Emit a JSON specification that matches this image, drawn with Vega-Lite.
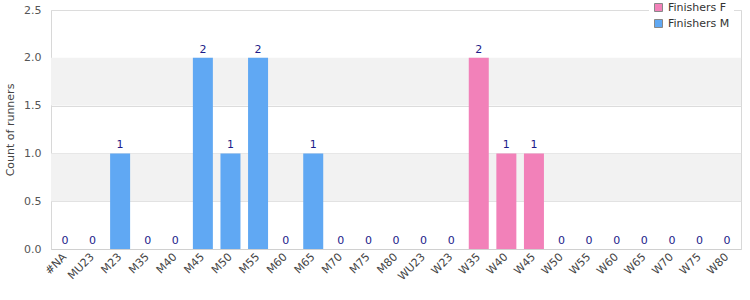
{
  "$schema": "https://vega.github.io/schema/vega-lite/v6.json",
  "autosize": "none",
  "width": 690,
  "height": 239,
  "padding": {"left": 51, "top": 10, "right": 9, "bottom": 51},
  "background": "white",
  "config": {
    "font": "DejaVu Sans",
    "view": {"stroke": "#d8d8d8", "strokeWidth": 1}
  },
  "datasets": {
    "runners": [
      {"category": "#NA", "group": "Finishers M", "count": 0},
      {"category": "MU23", "group": "Finishers M", "count": 0},
      {"category": "M23", "group": "Finishers M", "count": 1},
      {"category": "M35", "group": "Finishers M", "count": 0},
      {"category": "M40", "group": "Finishers M", "count": 0},
      {"category": "M45", "group": "Finishers M", "count": 2},
      {"category": "M50", "group": "Finishers M", "count": 1},
      {"category": "M55", "group": "Finishers M", "count": 2},
      {"category": "M60", "group": "Finishers M", "count": 0},
      {"category": "M65", "group": "Finishers M", "count": 1},
      {"category": "M70", "group": "Finishers M", "count": 0},
      {"category": "M75", "group": "Finishers M", "count": 0},
      {"category": "M80", "group": "Finishers M", "count": 0},
      {"category": "WU23", "group": "Finishers F", "count": 0},
      {"category": "W23", "group": "Finishers F", "count": 0},
      {"category": "W35", "group": "Finishers F", "count": 2},
      {"category": "W40", "group": "Finishers F", "count": 1},
      {"category": "W45", "group": "Finishers F", "count": 1},
      {"category": "W50", "group": "Finishers F", "count": 0},
      {"category": "W55", "group": "Finishers F", "count": 0},
      {"category": "W60", "group": "Finishers F", "count": 0},
      {"category": "W65", "group": "Finishers F", "count": 0},
      {"category": "W70", "group": "Finishers F", "count": 0},
      {"category": "W75", "group": "Finishers F", "count": 0},
      {"category": "W80", "group": "Finishers F", "count": 0}
    ],
    "bands": [
      {"lo": 0.5, "hi": 1.0},
      {"lo": 1.5, "hi": 2.0}
    ]
  },
  "resolve": {"scale": {"y": "shared"}},
  "layer": [
    {
      "data": {"name": "bands"},
      "mark": {"type": "rect", "color": "#f2f2f2"},
      "encoding": {
        "y": {"field": "lo", "type": "quantitative", "scale": {"domain": [0, 2.5], "nice": false, "zero": true}},
        "y2": {"field": "hi"}
      }
    },
    {
      "data": {"name": "runners"},
      "mark": {"type": "bar", "width": 20},
      "encoding": {
        "x": {
          "field": "category", "type": "nominal", "sort": null,
          "scale": {"paddingInner": 0.27, "paddingOuter": 0.14},
          "axis": {
            "title": null, "labelAngle": -45, "labelAlign": "right", "labelBaseline": "middle",
            "labelFontSize": 11, "labelColor": "#444", "ticks": false, "domainColor": "#d0d0d0",
            "labelPadding": 6
          }
        },
        "y": {
          "field": "count", "type": "quantitative",
          "scale": {"domain": [0, 2.5], "nice": false},
          "axis": {
            "title": "Count of runners", "titleFontSize": 11, "titleFontWeight": "normal", "titleColor": "#444",
            "values": [0, 0.5, 1, 1.5, 2, 2.5], "format": ".1f",
            "labelFontSize": 11, "labelColor": "#555", "ticks": false, "domain": false,
            "gridColor": "#dcdcdc", "labelPadding": 10, "titlePadding": 8
          }
        },
        "color": {
          "field": "group", "type": "nominal",
          "scale": {"domain": ["Finishers F", "Finishers M"], "range": ["#f281b9", "#60a8f3"]},
          "legend": {
            "title": null, "orient": "none", "legendX": 598, "legendY": -12,
            "symbolType": "square", "symbolSize": 64, "symbolStrokeColor": "#888", "symbolStrokeWidth": 1,
            "labelFontSize": 11, "labelColor": "#333", "fillColor": "white", "padding": 4, "rowPadding": 3,
            "symbolOpacity": 1
          }
        }
      }
    },
    {
      "data": {"name": "runners"},
      "mark": {"type": "text", "baseline": "bottom", "dy": -3, "fontSize": 11, "color": "#1c1c8a"},
      "encoding": {
        "x": {"field": "category", "type": "nominal", "sort": null},
        "y": {"field": "count", "type": "quantitative"},
        "text": {"field": "count", "type": "quantitative"}
      }
    }
  ]
}
